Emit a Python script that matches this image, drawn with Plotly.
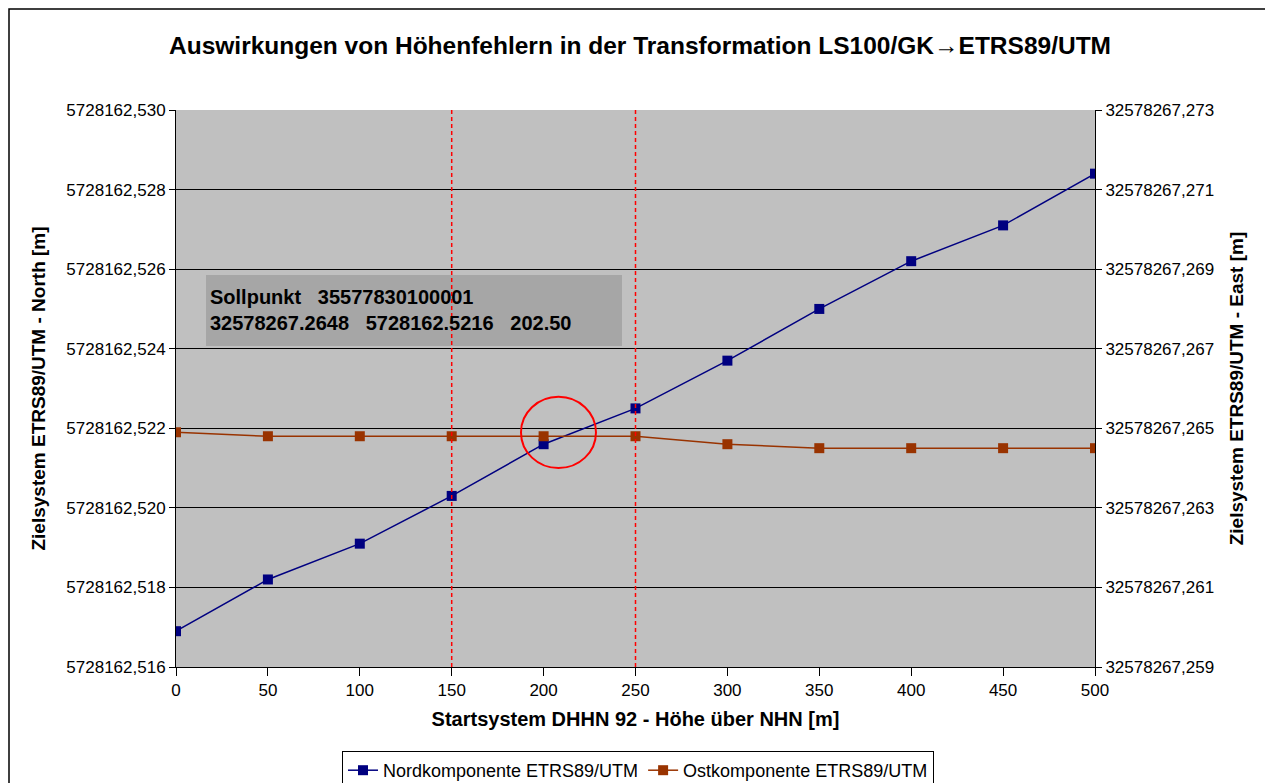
import plotly.graph_objects as go

hoehe = [0, 50, 100, 150, 200, 250, 300, 350, 400, 450, 500]
nord = [5728162.5169, 5728162.5182, 5728162.5191, 5728162.5203, 5728162.5216, 5728162.5225,
        5728162.5237, 5728162.5250, 5728162.5262, 5728162.5271, 5728162.5284]
ost = [32578267.2649, 32578267.2648, 32578267.2648, 32578267.2648, 32578267.2648, 32578267.2648,
       32578267.2646, 32578267.2645, 32578267.2645, 32578267.2645, 32578267.2645]
vlines = [150, 250]
title = "Auswirkungen von Höhenfehlern in der Transformation LS100/GK→ETRS89/UTM"
box_text = "Sollpunkt   35577830100001<br>32578267.2648   5728162.5216   202.50"

FONT = "Liberation Sans, Arial, sans-serif"
# figure coordinates (page is offset by 8px body margin)
W, H = 1265, 800
L, T, R, B = 168, 102, 1087, 659
PW, PH = R - L, B - T

def px(xf):
    return (xf - L) / PW

def py(yf):
    return (B - yf) / PH

fig = go.Figure()
fig.add_trace(go.Scatter(x=hoehe, y=nord, mode="lines+markers", name="Nordkomponente ETRS89/UTM",
                         line=dict(color="#000080", width=1.5),
                         marker=dict(symbol="square", size=10, color="#000080"), yaxis="y"))
fig.add_trace(go.Scatter(x=hoehe, y=ost, mode="lines+markers", name="Ostkomponente ETRS89/UTM",
                         line=dict(color="#993300", width=1.5),
                         marker=dict(symbol="square", size=10, color="#993300"), yaxis="y2"))

shapes = []
# text box background
shapes.append(dict(type="rect", xref="paper", yref="paper", x0=px(206 - 8), x1=px(622 - 8),
                   y0=py(346 - 8), y1=py(275 - 8), line=dict(width=0),
                   fillcolor="#a6a6a6", layer="above"))
for v in vlines:
    shapes.append(dict(type="line", xref="x", yref="paper", x0=v, x1=v, y0=0, y1=1,
                       line=dict(color="#ff0000", width=1.5, dash="4px,3px"), layer="above"))
# red circle
shapes.append(dict(type="circle", xref="x", yref="y", x0=187.7, x1=228.5,
                   y0=5728162.52100, y1=5728162.52279,
                   line=dict(color="#ff0000", width=2), fillcolor="rgba(0,0,0,0)"))
# outer frame
shapes.append(dict(type="rect", xref="paper", yref="paper", x0=px(1), x1=px(1261),
                   y0=py(H - 1), y1=py(1), line=dict(color="black", width=1.5),
                   fillcolor="rgba(0,0,0,0)", layer="below"))

fig.update_layout(
    width=W, height=H,
    margin=dict(l=L, r=W - R, t=T, b=H - B, autoexpand=False),
    paper_bgcolor="white", plot_bgcolor="#c0c0c0",
    separators=",.",
    font=dict(family=FONT, size=17, color="black"),
    title=dict(text="<b>" + title + "</b>", x=(640 - 8) / W, xref="container", xanchor="center",
               y=1 - (45 - 8) / H, yanchor="middle", font=dict(size=24.5, family=FONT)),
    xaxis=dict(range=[0, 500], tickvals=hoehe, showgrid=False, zeroline=False,
               showline=True, linecolor="black", linewidth=1, mirror=False,
               ticks="outside", ticklen=8, tickcolor="black",
               title=dict(text="<b>Startsystem DHHN 92 - Höhe über NHN [m]</b>",
                          font=dict(size=20), standoff=12)),
    yaxis=dict(range=[5728162.516, 5728162.530], tick0=5728162.516, dtick=0.002, tickformat=".3f",
               showgrid=True, gridcolor="black", gridwidth=1, zeroline=False,
               showline=True, linecolor="black", linewidth=1,
               ticks="outside", ticklen=6, tickcolor="black",
               title=dict(text="<b>Zielsystem ETRS89/UTM - North [m]</b>",
                          font=dict(size=19), standoff=15)),
    yaxis2=dict(range=[32578267.259, 32578267.273], tick0=32578267.259, dtick=0.002, tickformat=".3f",
                overlaying="y", side="right", showgrid=False, zeroline=False,
                showline=True, linecolor="black", linewidth=1,
                ticks="outside", ticklen=6, tickcolor="black",
                title=dict(text="<b>Zielsystem ETRS89/UTM - East [m]</b>",
                           font=dict(size=19), standoff=16)),
    legend=dict(orientation="h", x=px(638 - 8), xanchor="center", y=py(751 - 8), yanchor="top",
                bordercolor="black", borderwidth=1, bgcolor="white",
                font=dict(size=18), itemwidth=30, tracegroupgap=0),
    shapes=shapes,
    showlegend=True,
)
fig.add_annotation(xref="paper", yref="paper", x=px(208 - 8), y=py(310 - 8),
                   xanchor="left", yanchor="middle", align="left", showarrow=False,
                   text="<b>" + box_text + "</b>", font=dict(size=20, family=FONT, color="black"))

fig.write_html("out.html")
